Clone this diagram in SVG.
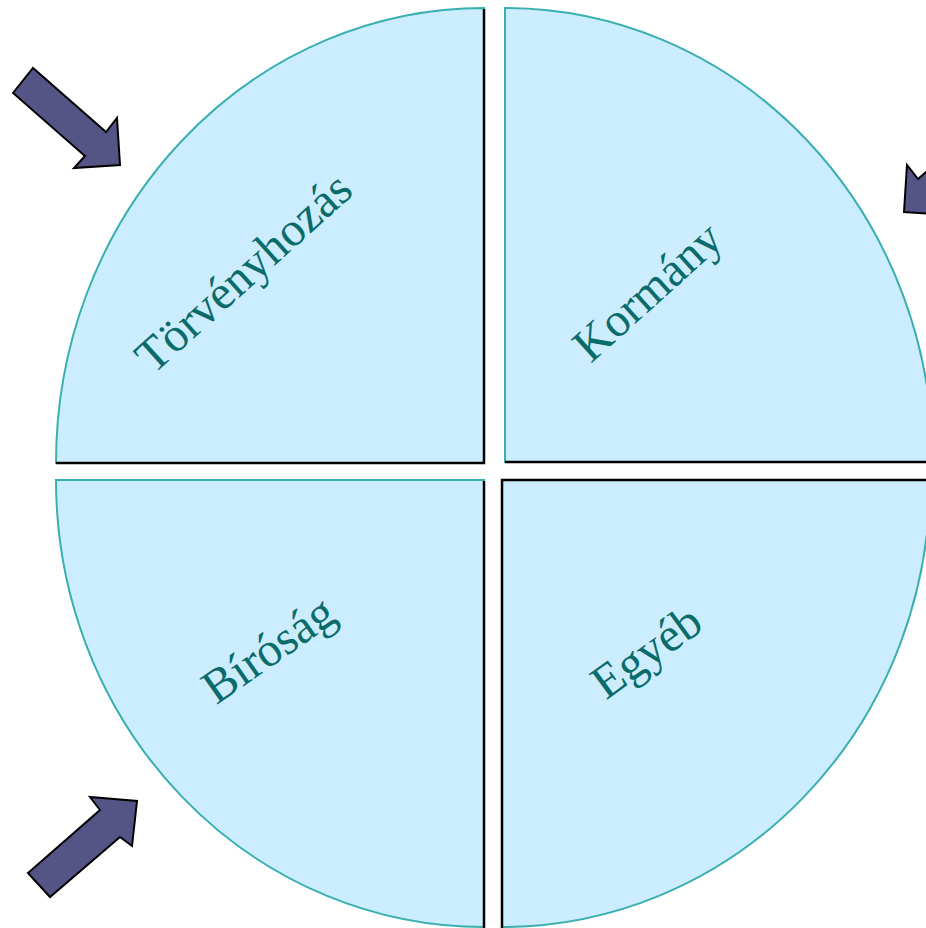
<svg xmlns="http://www.w3.org/2000/svg" width="926" height="928" viewBox="0 0 926 928">
  <style>
    .sector { fill: #CCECFF; stroke: #3AAFB0; stroke-width: 2; }
    .edge { stroke: #000; stroke-width: 2.5; fill: none; }
    .label { font-family: "Liberation Serif", "Times New Roman", serif; font-size: 48px; fill: #0A6B6B; text-anchor: middle; dominant-baseline: central; }
    .arrow { fill: #545487; stroke: #000; stroke-width: 2; stroke-linejoin: miter; }
  </style>
  <rect width="926" height="928" fill="#fff"/>

  <!-- four quarter sectors -->
  <g id="torvenyhozas">
    <path class="sector" d="M484,463 L56,463 A428,455 0 0 1 484,8 Z"/>
    <path class="edge" d="M56,463 L484,463 L484,9"/>
    <text class="label" transform="translate(243,272) rotate(-42)">Törvényhozás</text>
  </g>
  <g id="kormany">
    <path class="sector" d="M505,462 L505,8 A428,454 0 0 1 933,462 Z"/>
    <path class="edge" d="M505,462 L926,462"/>
    <text class="label" transform="translate(647,291) rotate(-42)">Kormány</text>
  </g>
  <g id="birosag">
    <path class="sector" d="M484,480 L56,480 A428,447 0 0 0 484,927 Z"/>
    <path class="edge" d="M484,481 L484,928"/>
    <text class="label" transform="translate(268,649) rotate(-35)">Bíróság</text>
  </g>
  <g id="egyeb">
    <path class="sector" d="M502,480 L502,927 A428,447 0 0 0 930,480 Z"/>
    <path class="edge" d="M502,928 L502,480 L926,480"/>
    <text class="label" transform="translate(646,651) rotate(-36)">Egyéb</text>
  </g>

  <!-- block arrows pointing at the circle -->
  <g id="connectors">
    <polygon class="arrow" points="13,93 33,68 106,132 117,118 120,165 74,168 85,156"/>
    <polygon class="arrow" points="1011,140 991,115 918,179 907,165 904,212 950,215 939,203"/>
    <polygon class="arrow" points="28,873 50,897 120,837 132,846 137,801 90,797 100,810"/>
  </g>
</svg>
